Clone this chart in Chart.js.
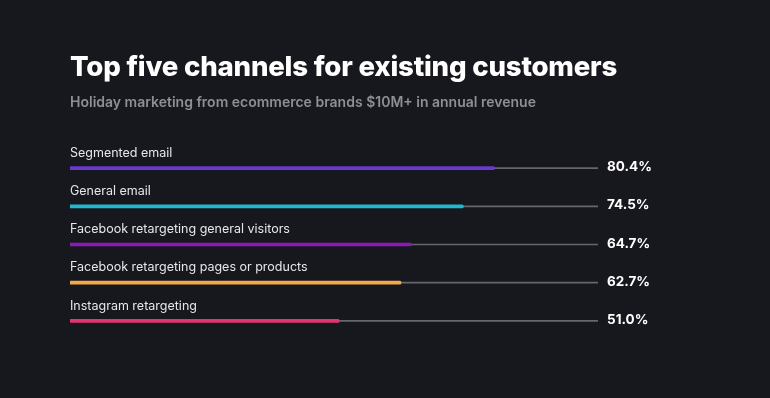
<!DOCTYPE html>
<html>
<head>
<meta charset="utf-8">
<script src="https://cdn.jsdelivr.net/npm/chart.js@4"></script>
<style>
  html, body { margin:0; padding:0; background:#17171e; }
  #wrap { width:770px; height:398px; position:relative; font-family: Inter, "Noto Sans", sans-serif; }
  #wrap canvas { position:absolute; left:0; top:0; }
  .title { position:absolute; left:70px; top:48px; margin:0; color:#fff; font-size:27.6px; font-weight:800; line-height:36px; white-space:nowrap; letter-spacing:-0.2px; }
  .sub { position:absolute; left:70px; top:93px; margin:0; color:#8e8e96; font-size:14px; font-weight:600; line-height:18px; white-space:nowrap; }
</style>
</head>
<body>
<div id="wrap">
  <canvas id="chart" width="770" height="398"></canvas>
  <h1 class="title">Top five channels for existing customers</h1>
  <p class="sub">Holiday marketing from ecommerce brands $10M+ in annual revenue</p>
</div>
<script>
// data
const channels = [
  'Segmented email',
  'General email',
  'Facebook retargeting general visitors',
  'Facebook retargeting pages or products',
  'Instagram retargeting'
];
const shares = [80.4, 74.5, 64.7, 62.7, 51.0];
const trackValues = [100, 100, 100, 100, 100];
const barColors = ['#6a3ad0', '#22b8cc', '#8b18b8', '#f2a94a', '#e0356f'];

const FONT = 'Inter, "Noto Sans", sans-serif';

// draws channel name above each bar and the value at the right
const rowLabels = {
  id: 'rowLabels',
  afterDatasetsDraw(chart){
    const ctx = chart.ctx;
    const meta = chart.getDatasetMeta(1);
    const area = chart.chartArea;
    ctx.save();
    meta.data.forEach((bar, i) => {
      ctx.textBaseline = 'middle';
      ctx.textAlign = 'left';
      ctx.fillStyle = '#e6e6ea';
      ctx.font = '400 12.5px ' + FONT;
      ctx.fillText(channels[i], area.left, bar.y - 15);
      ctx.fillStyle = '#ffffff';
      ctx.font = '700 13.5px ' + FONT;
      ctx.fillText(shares[i].toFixed(1) + '%', area.right + 9, bar.y - 1);
    });
    ctx.restore();
  }
};

new Chart(document.getElementById('chart'), {
  type: 'bar',
  data: {
    labels: channels,
    datasets: [
      { data: trackValues, backgroundColor: '#66666c', barThickness: 1, grouped: false, order: 2 },
      { data: shares, backgroundColor: barColors, barThickness: 3, borderRadius: 1.5, grouped: false, order: 1 }
    ]
  },
  options: {
    indexAxis: 'y',
    responsive: false,
    animation: false,
    layout: { padding: { left: 70, right: 172, top: 149, bottom: 58 } },
    scales: {
      x: { display: false, min: 0, max: 100 },
      y: { display: false }
    },
    plugins: {
      legend: { display: false },
      tooltip: { enabled: false }
    }
  },
  plugins: [rowLabels]
});
</script>
</body>
</html>
